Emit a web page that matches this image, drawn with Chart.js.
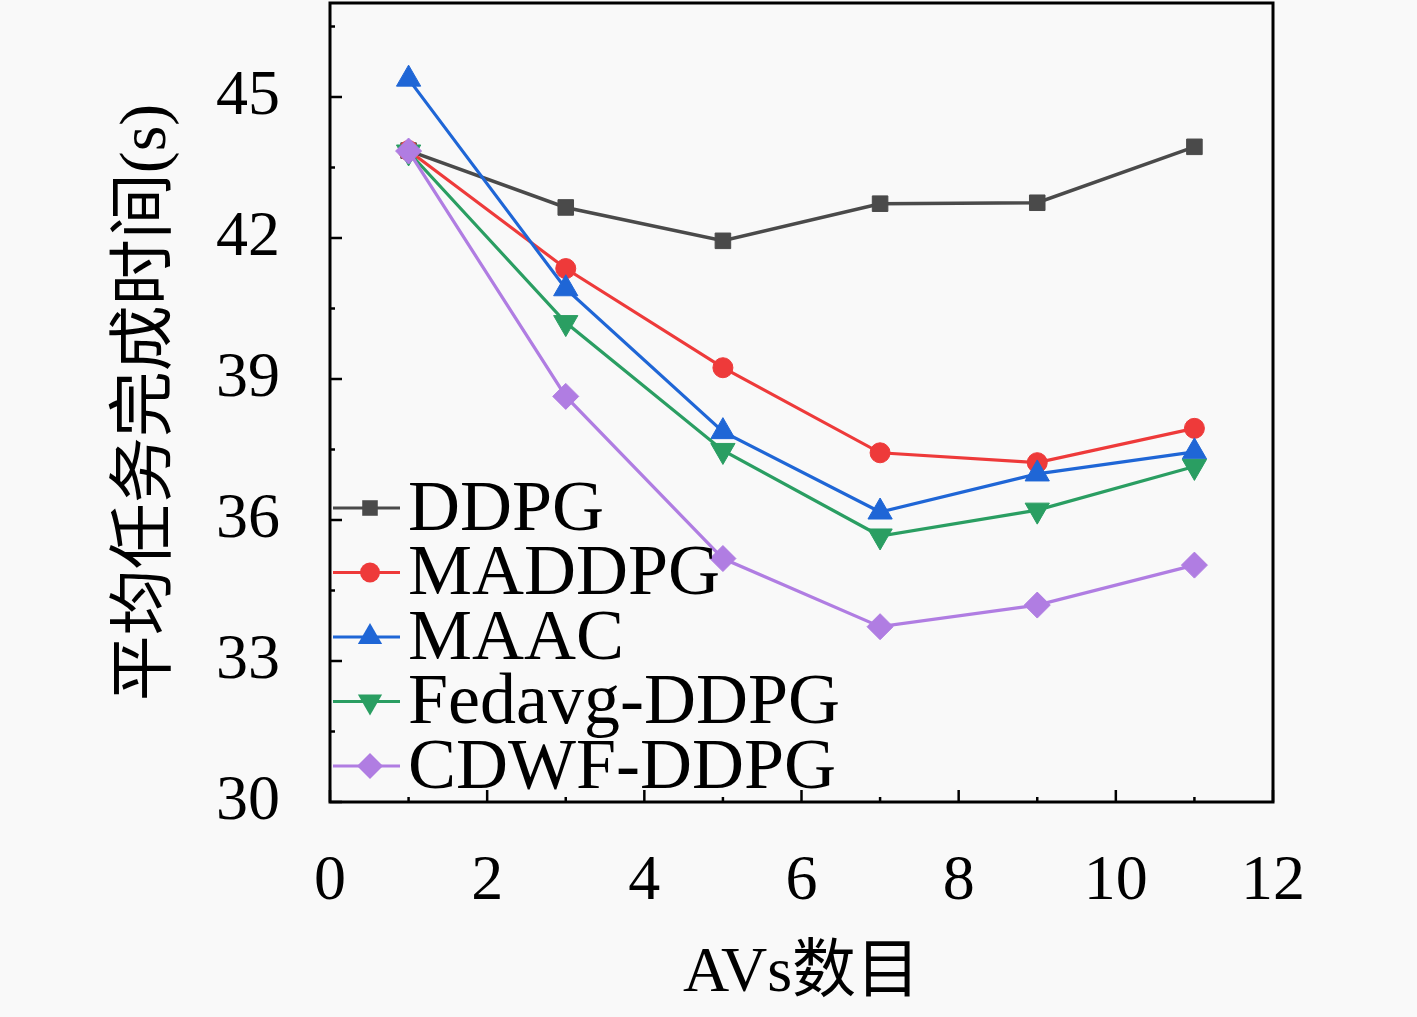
<!DOCTYPE html>
<html>
<head>
<meta charset="utf-8">
<script src="https://cdn.jsdelivr.net/npm/chart.js@4.4.1/dist/chart.umd.min.js"></script>
<style>
    html, body { margin: 0; padding: 0; background: #f9f9f9; }
    canvas { display: block; }
</style>
</head>
<body>
<canvas id="grafico" width="1417" height="1017"></canvas>
<script>
// Datos
const numAVs = [1, 3, 5, 7, 9, 11];
const nombresSeries = ['DDPG', 'MADDPG', 'MAAC', 'Fedavg-DDPG', 'CDWF-DDPG'];
const ddpg = [43.86, 42.65, 41.94, 42.73, 42.75, 43.94];
const maddpg = [43.86, 41.35, 39.24, 37.43, 37.22, 37.95];
const maac = [45.38, 40.92, 37.88, 36.17, 36.98, 37.45];
const fedavg = [43.83, 40.2, 37.48, 35.66, 36.21, 37.14];
const cdwf = [43.85, 38.63, 35.18, 33.73, 34.19, 35.04];
const ticksX = [0, 2, 4, 6, 8, 10, 12];
const ticksY = [30, 33, 36, 39, 42, 45];
const tituloX = 'AVs数目';
const tituloY = '平均任务完成时间(s)';

const serif = '"Liberation Serif", "Times New Roman", "Noto Sans CJK SC", serif';
const cjk = '"Liberation Serif", "Noto Sans CJK SC", serif';

const estilos = [
    { color: '#4a4a4a', forma: 'rect', radio: 11, rot: 0 },
    { color: '#ee3a3a', forma: 'circle', radio: 10, rot: 0 },
    { color: '#1f66d6', forma: 'triangle', radio: 14, rot: 0 },
    { color: '#2a9e62', forma: 'triangle', radio: 14, rot: 180 },
    { color: '#b07de2', forma: 'rectRot', radio: 13, rot: 0 }
];

const valores = [ddpg, maddpg, maac, fedavg, cdwf];

function dibujarMarcador(ctx, forma, x, y, r, rot, color) {
    ctx.save();
    ctx.fillStyle = color;
    ctx.translate(x, y);
    ctx.rotate(rot * Math.PI / 180);
    ctx.beginPath();
    if (forma === 'circle') {
        ctx.arc(0, 0, r, 0, Math.PI * 2);
    } else if (forma === 'rect') {
        const s = r * Math.SQRT1_2;
        ctx.rect(-s, -s, 2 * s, 2 * s);
    } else if (forma === 'triangle') {
        for (let k = 0; k < 3; k++) {
            const a = -Math.PI / 2 + k * 2 * Math.PI / 3;
            if (k === 0) ctx.moveTo(r * Math.cos(a), r * Math.sin(a));
            else ctx.lineTo(r * Math.cos(a), r * Math.sin(a));
        }
        ctx.closePath();
    } else if (forma === 'rectRot') {
        ctx.moveTo(0, -r);
        ctx.lineTo(r, 0);
        ctx.lineTo(0, r);
        ctx.lineTo(-r, 0);
        ctx.closePath();
    }
    ctx.fill();
    ctx.restore();
}

// Fondo, marco, marcas hacia dentro y leyenda
const pluginMarco = {
    id: 'marco',
    beforeDraw(chart) {
        const ctx = chart.ctx;
        ctx.save();
        ctx.fillStyle = '#f9f9f9';
        ctx.fillRect(0, 0, chart.width, chart.height);
        ctx.restore();
    },
    beforeDatasetsDraw(chart) {
        const {ctx, chartArea: a, scales: {x, y}} = chart;
        ctx.save();
        ctx.strokeStyle = '#000';
        ctx.lineWidth = 2.5;
        // marcas del eje x
        for (let v = ticksX[0]; v <= ticksX[ticksX.length - 1]; v += 1) {
            const px = x.getPixelForValue(v);
            const largo = ticksX.includes(v) ? 12 : 5;
            ctx.beginPath();
            ctx.moveTo(px, a.bottom);
            ctx.lineTo(px, a.bottom - largo);
            ctx.stroke();
        }
        // marcas del eje y
        const paso = ticksY[1] - ticksY[0];
        for (let v = ticksY[0]; v <= y.max; v += paso / 2) {
            const py = y.getPixelForValue(v);
            const largo = ticksY.includes(v) ? 12 : 5;
            ctx.beginPath();
            ctx.moveTo(a.left, py);
            ctx.lineTo(a.left + largo, py);
            ctx.stroke();
        }
        ctx.restore();
    },
    afterDatasetsDraw(chart) {
        const {ctx, chartArea: a} = chart;
        ctx.save();
        ctx.strokeStyle = '#000';
        ctx.lineWidth = 3;
        ctx.strokeRect(a.left, a.top, a.right - a.left, a.bottom - a.top);

        // leyenda
        nombresSeries.forEach((nombre, i) => {
            const est = estilos[i];
            const fy = 508 + i * 64.5;
            ctx.strokeStyle = est.color;
            ctx.lineWidth = 3;
            ctx.beginPath();
            ctx.moveTo(a.left + 3, fy);
            ctx.lineTo(a.left + 70, fy);
            ctx.stroke();
            dibujarMarcador(ctx, est.forma, a.left + 40, fy, est.radio, est.rot, est.color);
            ctx.fillStyle = '#000';
            ctx.font = '72px ' + serif;
            ctx.textBaseline = 'middle';
            ctx.textAlign = 'left';
            ctx.fillText(nombre, a.left + 78, fy + 3);
        });
        ctx.restore();
    }
};

new Chart(document.getElementById('grafico').getContext('2d'), {
    type: 'line',
    data: {
        datasets: nombresSeries.map((nombre, i) => ({
            label: nombre,
            data: numAVs.map((n, j) => ({ x: n, y: valores[i][j] })),
            borderColor: estilos[i].color,
            backgroundColor: estilos[i].color,
            pointBackgroundColor: estilos[i].color,
            pointBorderColor: estilos[i].color,
            pointBorderWidth: 1,
            pointStyle: estilos[i].forma,
            pointRadius: estilos[i].radio,
            pointRotation: estilos[i].rot,
            borderWidth: i === 0 ? 3.5 : 3.2,
            tension: 0,
            fill: false,
            order: nombresSeries.length - i
        }))
    },
    options: {
        responsive: false,
        animation: false,
        devicePixelRatio: 1,
        layout: { autoPadding: false, padding: { top: 3, right: 144, left: 0, bottom: 0 } },
        plugins: {
            legend: { display: false },
            tooltip: { enabled: false }
        },
        scales: {
            x: {
                type: 'linear',
                min: 0,
                max: 12,
                afterBuildTicks: s => { s.ticks = ticksX.map(v => ({ value: v })); },
                afterFit: s => { s.height = 215; s.paddingLeft = 0; s.paddingRight = 0; },
                grid: { display: false, drawTicks: false },
                border: { display: false },
                ticks: {
                    color: '#000',
                    font: { family: serif, size: 64 },
                    padding: 42,
                    maxRotation: 0
                },
                title: {
                    display: true,
                    text: tituloX,
                    color: '#000',
                    font: { family: cjk, size: 64 },
                    padding: { top: 0, bottom: 4 }
                }
            },
            y: {
                type: 'linear',
                min: 30,
                max: 47,
                afterBuildTicks: s => { s.ticks = ticksY.map(v => ({ value: v })); },
                afterFit: s => { s.width = 330; s.paddingTop = 0; s.paddingBottom = 0; },
                grid: { display: false, drawTicks: false },
                border: { display: false },
                ticks: {
                    color: '#000',
                    font: { family: serif, size: 64 },
                    padding: 50
                },
                title: {
                    display: true,
                    text: tituloY,
                    color: '#000',
                    font: { family: cjk, size: 66 },
                    padding: { top: 108, bottom: 0 }
                }
            }
        }
    },
    plugins: [pluginMarco]
});
</script>
</body>
</html>
